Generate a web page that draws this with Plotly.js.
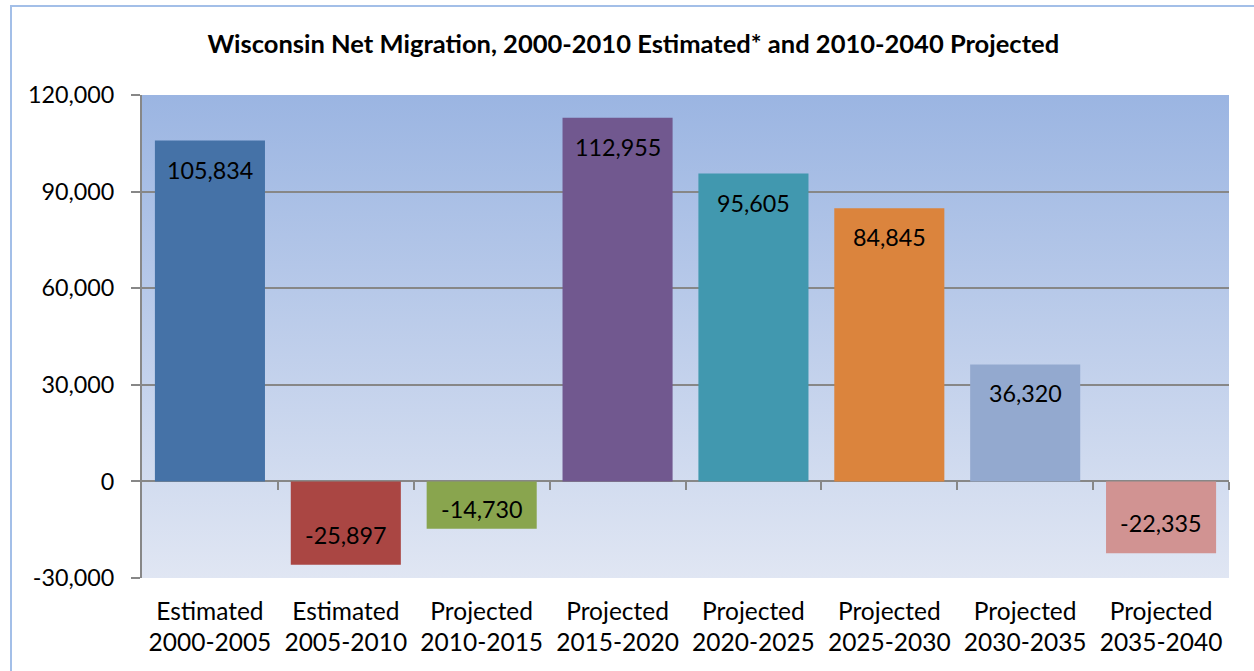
<!DOCTYPE html>
<html>
<head>
<meta charset="utf-8">
<script src="https://cdn.plot.ly/plotly-3.0.1.min.js"></script>
<style>
  html, body { margin: 0; padding: 0; background: #ffffff; }
  #chart { width: 1254px; height: 671px; }
</style>
</head>
<body>
<div id="chart"></div>
<script>
// ---- data ----
var categories = [
  "Estimated<br>2000-2005",
  "Estimated<br>2005-2010",
  "Projected<br>2010-2015",
  "Projected<br>2015-2020",
  "Projected<br>2020-2025",
  "Projected<br>2025-2030",
  "Projected<br>2030-2035",
  "Projected<br>2035-2040"
];
var netMigration = [105834, -25897, -14730, 112955, 95605, 84845, 36320, -22335];
var barColors = ["#4572A7", "#AA4643", "#89A54E", "#71588F", "#4198AF", "#DB843D", "#93A9CF", "#D19392"];
var yTickVals = [-30000, 0, 30000, 60000, 90000, 120000];
var yTickText = ["-30,000", "0", "30,000", "60,000", "90,000", "120,000"];

// ---- layout constants ----
var FONT = "Lato, 'Open Sans', sans-serif";
var yMin = -30000, yMax = 120000;
var plotH = 671 - 95 - 93;

function fmt(v) {
  return (v < 0 ? "-" : "") + Math.abs(v).toLocaleString("en-US");
}

var gradSvg = "<svg xmlns='http://www.w3.org/2000/svg' width='100' height='100' preserveAspectRatio='none'>" +
  "<defs><linearGradient id='g' x1='0' y1='0' x2='0' y2='1'>" +
  "<stop offset='0' stop-color='#9bb5e2'/><stop offset='1' stop-color='#e0e6f3'/>" +
  "</linearGradient></defs><rect width='100' height='100' fill='url(#g)'/></svg>";
var gradUri = "data:image/svg+xml;charset=utf-8," + encodeURIComponent(gradSvg);

var bars = {
  type: "bar",
  x: categories,
  y: netMigration,
  marker: { color: barColors, line: { width: 0 } },
  hoverinfo: "x+y",
  showlegend: false
};
var dummy = {
  type: "scatter", x: [], y: [], xaxis: "x2", yaxis: "y",
  hoverinfo: "skip", showlegend: false
};

var annotations = netMigration.map(function (v, i) {
  var hPx = Math.abs(v) / (yMax - yMin) * plotH;
  var off = Math.min(30, hPx * 0.42);
  return {
    x: categories[i], y: v, xref: "x", yref: "y",
    text: fmt(v), showarrow: false,
    yanchor: "middle", xanchor: "center",
    yshift: v >= 0 ? -off + 1 : off,
    font: { family: FONT, size: 23.3, color: "#000000" }
  };
});

var boundaryTicks = categories.map(function (c, i) { return i + 0.5; });

var layout = {
  width: 1254, height: 671,
  margin: { l: 142, r: 25, t: 95, b: 93, pad: 0 },
  paper_bgcolor: "#ffffff",
  plot_bgcolor: "rgba(0,0,0,0)",
  bargap: 0.19,
  font: { family: FONT, size: 22, color: "#000000" },
  title: {
    text: "<b>Wisconsin Net Migration, 2000-2010 Estimated* and 2010-2040 Projected</b>",
    font: { family: FONT, size: 25.5, color: "#000000" },
    x: 0.505, xanchor: "center", y: 0.934, yanchor: "middle"
  },
  xaxis: {
    type: "category",
    range: [-0.5, categories.length - 0.5],
    showgrid: false, zeroline: false, showline: false,
    ticks: "", tickfont: { family: FONT, size: 24.5, color: "#000000" },
    ticklabelstandoff: 16,
    fixedrange: true
  },
  xaxis2: {
    overlaying: "x", anchor: "free", position: (0 - yMin) / (yMax - yMin),
    range: [-0.5, categories.length - 0.5],
    tickmode: "array", tickvals: boundaryTicks,
    showticklabels: false, ticks: "outside", ticklen: 8, tickwidth: 2, tickcolor: "#878787",
    showgrid: false, zeroline: false, showline: false, fixedrange: true
  },
  yaxis: {
    range: [yMin, yMax],
    tickmode: "array", tickvals: yTickVals, ticktext: yTickText,
    showgrid: true, gridcolor: "#878787", gridwidth: 2,
    zeroline: true, zerolinecolor: "#878787", zerolinewidth: 2,
    showline: true, linecolor: "#878787", linewidth: 2,
    ticks: "outside", ticklen: 9, tickwidth: 2, tickcolor: "#878787",
    ticklabelstandoff: 12,
    tickfont: { family: FONT, size: 23.3, color: "#000000" },
    fixedrange: true
  },
  images: [{
    source: gradUri, xref: "paper", yref: "paper",
    x: 0, y: 1, sizex: 1, sizey: 1, xanchor: "left", yanchor: "top",
    sizing: "stretch", layer: "below"
  }],
  shapes: [{
    type: "rect", xref: "paper", yref: "paper",
    x0: (11 - 142) / 1087, x1: 1.2, y0: -0.4, y1: 1 + (95 - 6) / plotH,
    line: { color: "#a3bfe8", width: 2 }, fillcolor: "rgba(0,0,0,0)", layer: "below"
  }],
  annotations: annotations
};

Plotly.newPlot("chart", [bars, dummy], layout, { displayModeBar: false, staticPlot: true });
</script>
</body>
</html>
